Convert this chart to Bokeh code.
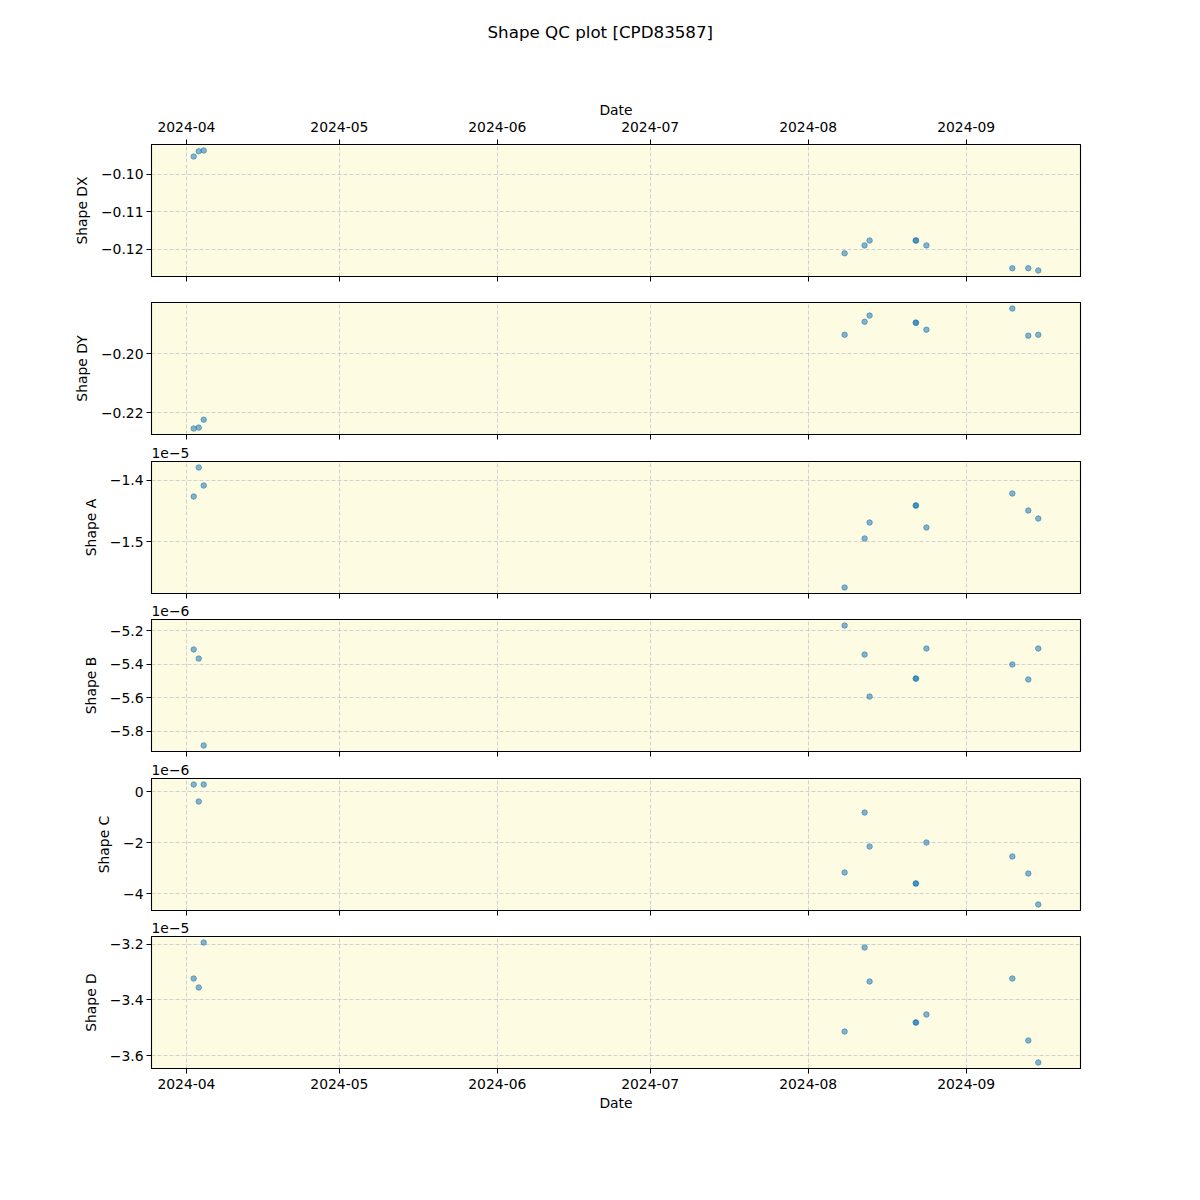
import pandas as pd
from bokeh.plotting import figure
from bokeh.models import (ColumnDataSource, DataRange1d, FixedTicker, CustomJSTickFormatter,
                          DatetimeTickFormatter, DatetimeAxis, Title)
from bokeh.layouts import column
from bokeh.embed import file_html
from bokeh.resources import INLINE

# ---------------- data ----------------
chart_title = "Shape QC plot [CPD83587]"
dates = [
    "2024-04-02 10:19", "2024-04-03 09:50", "2024-04-04 09:22",
    "2024-08-08 03:36", "2024-08-12 01:40", "2024-08-13 01:12",
    "2024-08-22 02:30", "2024-08-22 03:40", "2024-08-24 04:48",
    "2024-09-10 01:26", "2024-09-13 04:34", "2024-09-15 03:36",
]
shape_dx = [-0.0953, -0.0939, -0.0937, -0.1211, -0.1190, -0.1177,
            -0.1177, -0.1177, -0.1190, -0.1251, -0.1251, -0.1257]
shape_dy = [-0.2254, -0.2251, -0.2224, -0.1936, -0.1892, -0.1871,
            -0.1895, -0.1895, -0.1919, -0.1847, -0.1939, -0.1936]
shape_a = [-1.4266e-05, -1.3793e-05, -1.4087e-05, -1.5750e-05, -1.4951e-05, -1.4690e-05,
           -1.4413e-05, -1.4413e-05, -1.4772e-05, -1.4217e-05, -1.4494e-05, -1.4625e-05]
shape_b = [-5.313e-06, -5.367e-06, -5.884e-06, -5.170e-06, -5.343e-06, -5.593e-06,
           -5.486e-06, -5.486e-06, -5.307e-06, -5.402e-06, -5.491e-06, -5.307e-06]
shape_c = [0.275e-06, -0.392e-06, 0.275e-06, -3.176e-06, -0.824e-06, -2.157e-06,
           -3.608e-06, -3.608e-06, -2.000e-06, -2.549e-06, -3.216e-06, -4.431e-06]
shape_d = [-3.3233e-05, -3.3556e-05, -3.1939e-05, -3.5137e-05, -3.2119e-05, -3.3340e-05,
           -3.4813e-05, -3.4813e-05, -3.4526e-05, -3.3233e-05, -3.5460e-05, -3.6250e-05]

month_ticks = ["2024-04-01", "2024-05-01", "2024-06-01", "2024-07-01", "2024-08-01", "2024-09-01"]

panels = [
    # label, values, scale exponent, y tick values (scaled), decimals
    ("Shape DX", shape_dx, 0, [-0.12, -0.11, -0.10], 2),
    ("Shape DY", shape_dy, 0, [-0.22, -0.20], 2),
    ("Shape A", shape_a, -5, [-1.5, -1.4], 1),
    ("Shape B", shape_b, -6, [-5.8, -5.6, -5.4, -5.2], 1),
    ("Shape C", shape_c, -6, [-4, -2, 0], 0),
    ("Shape D", shape_d, -5, [-3.6, -3.4, -3.2], 1),
]

# ---------------- style ----------------
FONT = "DejaVu Sans"
FS = "13.9px"
BG = "#fdfce2"
PT = "#1f77b4"

month_ms = [pd.Timestamp(d).value // 10**6 for d in month_ticks]
x_dt = pd.to_datetime(dates)
x_range = DataRange1d(range_padding=0.1)

fmt_all = dict(milliseconds="%Y-%m", seconds="%Y-%m", minsec="%Y-%m", minutes="%Y-%m",
               hourmin="%Y-%m", hours="%Y-%m", days="%Y-%m", months="%Y-%m", years="%Y-%m")

# figure geometry (top border, bottom border, total height)
geo = [(84, 6, 222), (20, 6, 158), (21, 6, 159), (20, 6, 158), (21, 6, 159), (20, 52, 204)]


def style_xaxis(ax, labels, standoff=5, label_standoff=3):
    ax.ticker = FixedTicker(ticks=month_ms, minor_ticks=[])
    ax.major_tick_out = 5
    ax.major_tick_in = 0
    ax.minor_tick_out = 0
    ax.minor_tick_in = 0
    ax.axis_line_color = "black"
    ax.major_tick_line_color = "black"
    ax.major_label_text_font = FONT
    ax.major_label_text_color = "black"
    ax.axis_label_text_font = FONT
    ax.axis_label_text_font_size = FS
    ax.axis_label_text_font_style = "normal"
    ax.axis_label_text_color = "black"
    if labels:
        ax.formatter = DatetimeTickFormatter(**fmt_all)
        ax.major_label_text_font_size = FS
        ax.major_label_standoff = standoff
        ax.axis_label = "Date"
        ax.axis_label_standoff = label_standoff
    else:
        ax.formatter = CustomJSTickFormatter(code="return '';")
        ax.major_label_text_font_size = "1px"
        ax.major_label_standoff = 0


# title strip
head = figure(width=1184, height=60, output_backend="svg", toolbar_location=None,
              x_axis_location=None, y_axis_location=None,
              min_border_left=16, min_border_right=0, min_border_top=41, min_border_bottom=0,
              background_fill_color="white", border_fill_color="white",
              outline_line_color=None,
              title=Title(text=chart_title, align="left", offset=336, text_font=FONT,
                          text_font_size="16.7px", text_font_style="normal",
                          text_color="black", standoff=0))
head.grid.visible = False

figs = [head]
for i, (label, vals, expo, yt, dec) in enumerate(panels):
    top, bot, h = geo[i]
    scale = 10.0 ** expo
    src = ColumnDataSource(dict(x=x_dt, y=[v / scale for v in vals]))

    if expo != 0:
        ttl = Title(text="1e\u2212%d" % (-expo), align="left", vertical_align="top",
                    text_font=FONT, text_font_size=FS, text_font_style="normal",
                    text_color="black", standoff=4)
    else:
        ttl = None

    p = figure(width=1184, height=h, x_axis_type="datetime", x_range=x_range,
               y_range=DataRange1d(range_padding=0.1),
               output_backend="svg", toolbar_location=None,
               min_border_left=151, min_border_right=104,
               min_border_top=top, min_border_bottom=bot,
               background_fill_color=BG, border_fill_color="white",
               outline_line_color="black", outline_line_width=1.1,
               title=ttl)

    p.scatter(x="x", y="y", source=src, size=5.5, marker="circle",
              fill_color=PT, line_color=PT, fill_alpha=0.55, line_alpha=0.55)

    style_xaxis(p.xaxis[0], labels=(i == len(panels) - 1))
    if i == 0:
        top_ax = DatetimeAxis()
        style_xaxis(top_ax, labels=True, standoff=8, label_standoff=1)
        p.add_layout(top_ax, "above")

    ya = p.yaxis[0]
    ya.ticker = FixedTicker(ticks=yt, minor_ticks=[])
    ya.formatter = CustomJSTickFormatter(
        code="return tick.toFixed(%d).replace('-', '\\u2212');" % dec)
    ya.major_tick_out = 5
    ya.major_tick_in = 0
    ya.minor_tick_out = 0
    ya.minor_tick_in = 0
    ya.axis_line_color = "black"
    ya.major_label_text_font = FONT
    ya.major_label_text_font_size = FS
    ya.major_label_text_color = "black"
    ya.major_label_standoff = 3
    ya.axis_label = label
    ya.axis_label_text_font = FONT
    ya.axis_label_text_font_size = FS
    ya.axis_label_text_font_style = "normal"
    ya.axis_label_text_color = "black"
    ya.axis_label_standoff = 8

    for g in (p.xgrid[0], p.ygrid[0]):
        g.grid_line_color = "#b8b8c8"
        g.grid_line_alpha = 0.7
        g.grid_line_dash = "4 2"
        g.grid_line_width = 0.9

    figs.append(p)

layout = column(*figs, spacing=0)
open("out.html", "w").write(file_html(layout, INLINE))
